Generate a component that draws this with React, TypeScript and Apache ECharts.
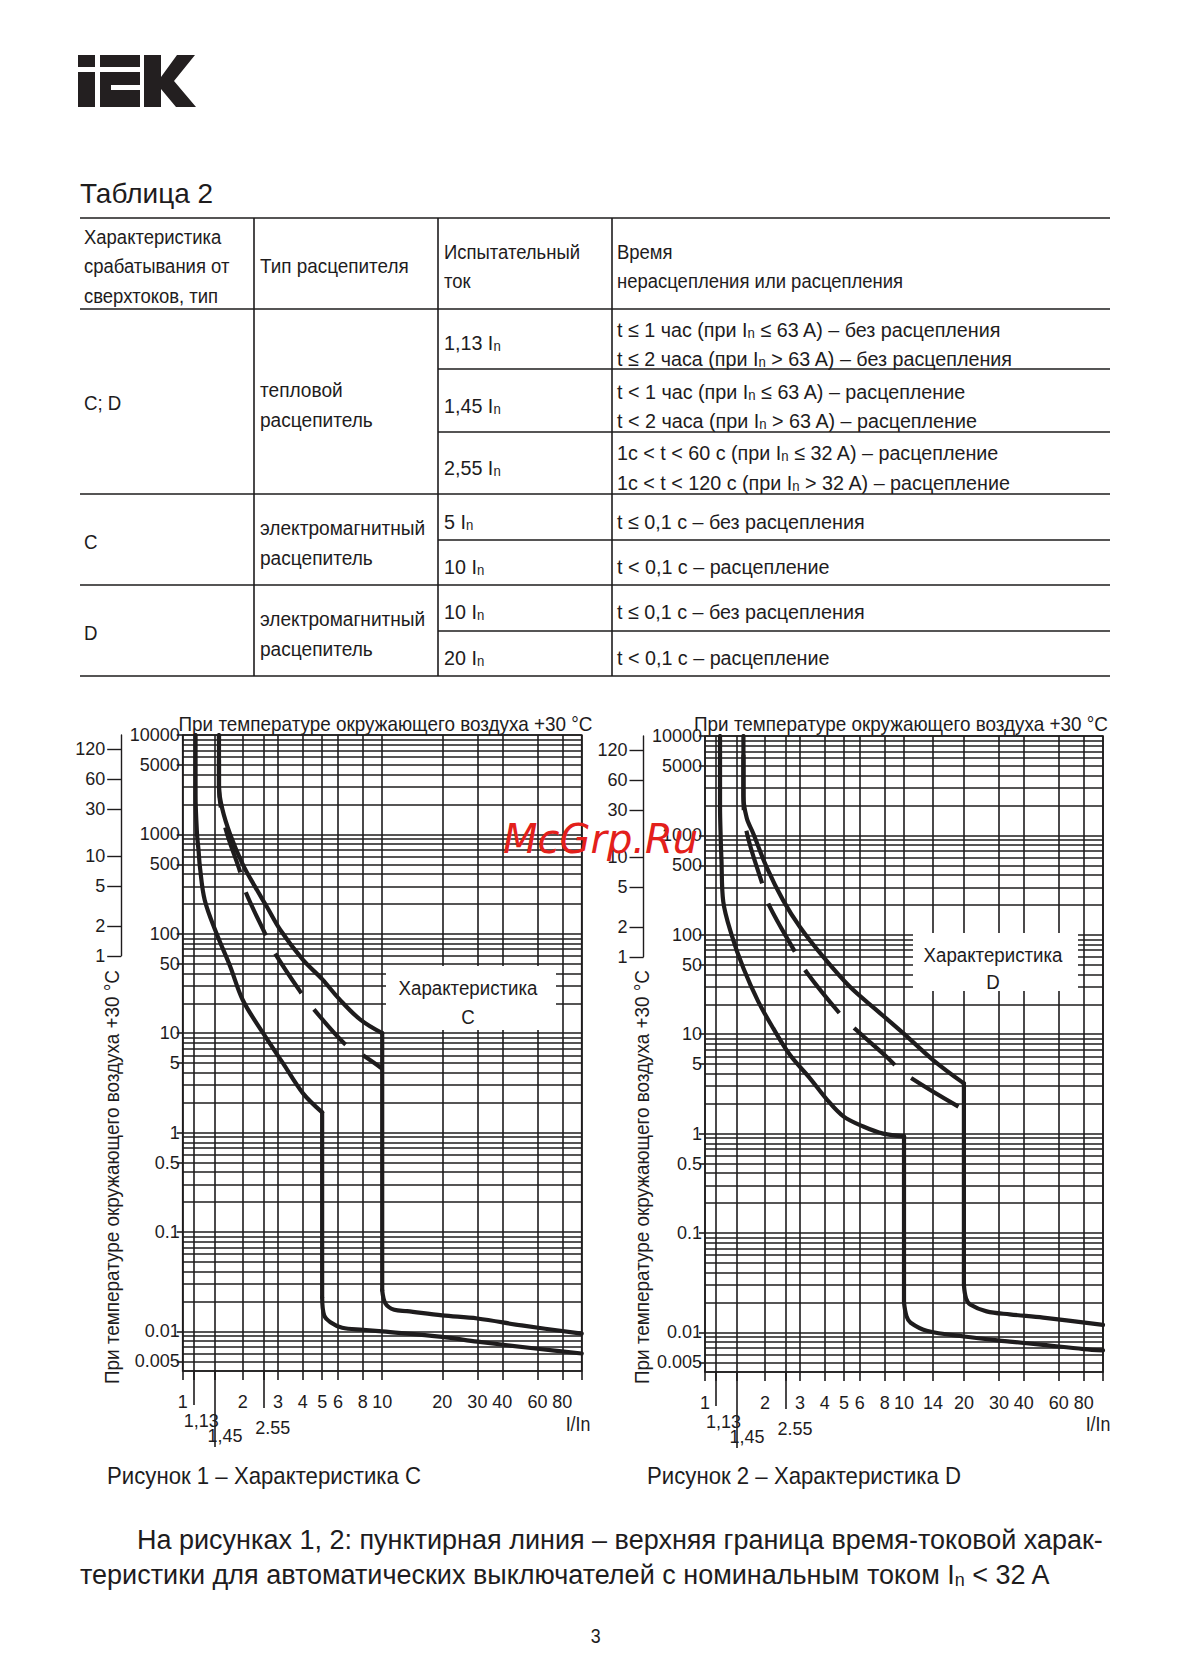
import React, { useEffect, useRef } from "react";
import * as echarts from "echarts";

const PAGE_W = 1189;
const PAGE_H = 1677;
const SANS = '"Liberation Sans", Arial, sans-serif';
const COND = 0.89; // horizontal squeeze that imitates the condensed typeface of the reference
const COND_WIDE = 0.94;
const INK = "#1e1c1d";

// ---------------- data ----------------
const currentGridC = [1, 1.13, 1.45, 2, 2.55, 3, 4, 5, 6, 8, 10, 20, 30, 40, 60, 80, 100];
const currentGridD = [1, 1.13, 1.45, 2, 2.55, 3, 4, 5, 6, 8, 10, 14, 20, 30, 40, 60, 80, 100];
const currentLabelsC = [1, 2, 3, 4, 5, 6, 8, 10, 20, 30, 40, 60, 80];
const currentLabelsD = [1, 2, 3, 4, 5, 6, 8, 10, 14, 20, 30, 40, 60, 80];
const testCurrents = [1.13, 1.45, 2.55];
const testCurrentLabels = ["1,13", "1,45", "2.55"];
const timeLabels = [0.005, 0.01, 0.1, 0.5, 1, 5, 10, 50, 100, 500, 1000, 5000, 10000];
const minuteLabels = [1, 2, 5, 10, 30, 60, 120];
const timeMin = 0.004;
const timeMax = 10000;
const currentMin = 1;
const currentMax = 100;

// Characteristic C
const cLowerCurve = [[1.16, 10000], [1.16, 2500], [1.18, 1000], [1.2, 700], [1.22, 470], [1.29, 218], [1.48, 100], [1.73, 47], [2.0, 21.6], [2.53, 10], [3.18, 5], [4.0, 2.5], [5.0, 1.6]];
const cLowerDrop = [[5.0, 1.6], [5.0, 0.022]];
const cLowerTail = [[5.0, 0.022], [5.12, 0.0145], [5.5, 0.0124], [6.3, 0.0109], [8, 0.0104], [10, 0.01], [20, 0.0088], [30, 0.0079], [60, 0.0067], [100, 0.006]];
const cUpperCurve = [[1.52, 10000], [1.52, 3000], [1.58, 1800], [1.73, 1000], [2.0, 500], [2.3, 300], [2.65, 185], [3.08, 110], [4.0, 55], [5.0, 35], [6.1, 22], [7.8, 13.6], [10, 10]];
const cUpperDrop = [[10, 10], [10, 0.026]];
const cUpperTail = [[10, 0.026], [10.4, 0.019], [11.5, 0.0165], [13.3, 0.016], [20, 0.0145], [30, 0.0135], [50, 0.0115], [100, 0.0095]];
const cDashed = [[1.52, 10000], [1.52, 3000], [1.63, 1200], [1.94, 420], [2.05, 275], [2.59, 100], [2.87, 66], [3.87, 26.5], [4.48, 18], [6.5, 7.8], [8.0, 6.0], [10, 4.4]];

// Characteristic D
const dLowerCurve = [[1.19, 10000], [1.19, 2000], [1.2, 900], [1.21, 560], [1.235, 216], [1.36, 100], [1.56, 46], [1.85, 21.4], [2.2, 11.5], [2.67, 6.2], [3.37, 3.6], [4.1, 2.2], [4.96, 1.49], [6.24, 1.18], [7.86, 1.0], [10, 0.94]];
const dLowerDrop = [[10, 0.94], [10, 0.02]];
const dLowerTail = [[10, 0.02], [10.3, 0.0145], [10.8, 0.0125], [13, 0.0104], [20, 0.0091], [34, 0.0081], [50, 0.0075], [80, 0.0068], [100, 0.0066]];
const dUpperCurve = [[1.56, 10000], [1.56, 2500], [1.62, 1500], [1.75, 1040], [2.04, 480], [2.47, 222], [3.0, 120], [3.93, 60], [5.35, 30], [7.3, 17.4], [9.94, 10.2], [14, 5.5], [20, 3.2]];
const dUpperDrop = [[20, 3.2], [20, 0.03]];
const dUpperTail = [[20, 0.03], [20.5, 0.022], [21.5, 0.0191], [26, 0.0163], [34, 0.0152], [50, 0.0141], [100, 0.0119]];
const dDashed = [[1.56, 10000], [1.56, 2500], [1.62, 1079], [1.95, 315], [2.1, 198], [2.86, 65], [3.24, 42], [4.8, 15.8], [5.71, 11.2], [8.19, 5.9], [10.1, 4.0], [20, 1.74]];

// Table text
const tableHeader = ["Характеристика\nсрабатывания от\nсверхтоков, тип", "Тип расцепителя", "Испытательный\nток", "Время\nнерасцепления или расцепления"];
const tableTypes = ["C; D", "C", "D"];
const tableReleases = ["тепловой\nрасцепитель", "электромагнитный\nрасцепитель", "электромагнитный\nрасцепитель"];
const tableCurrents = ["1,13 Iₙ", "1,45 Iₙ", "2,55 Iₙ", "5 Iₙ", "10 Iₙ", "10 Iₙ", "20 Iₙ"];
const tableTimes = [
  ["t ≤ 1 час (при Iₙ ≤ 63 A) – без расцепления", "t ≤ 2 часа (при Iₙ > 63 A) – без расцепления"],
  ["t < 1 час (при Iₙ ≤ 63 A) – расцепление", "t < 2 часа (при Iₙ > 63 A) – расцепление"],
  ["1c < t < 60 c (при Iₙ ≤ 32 A) – расцепление", "1c < t < 120 c (при Iₙ > 32 A) – расцепление"],
  ["t ≤ 0,1 с – без расцепления"],
  ["t < 0,1 с – расцепление"],
  ["t ≤ 0,1 c – без расцепления"],
  ["t < 0,1 c – расцепление"],
];
const chartTitle = "При температуре окружающего воздуха +30 °С";
const characteristicNames = ["C", "D"];
const captions = ["Рисунок 1 – Характеристика C", "Рисунок 2 – Характеристика D"];
const footnote = ["На рисунках 1, 2: пунктирная линия – верхняя граница время-токовой харак-", "теристики для автоматических выключателей с номинальным током Iₙ < 32 A"];

// ---------------- layout ----------------
const PLOT_C = { left: 182.7, top: 735, width: 399, height: 636 };
const PLOT_D = { left: 705, top: 736, width: 398, height: 636 };
const MINUTE_OFFSET = 61.5;
const TEST_TICKS = [
  { length: 34, margin: 41, pad: 16 },
  { length: 76, margin: 56, pad: 20 },
  { length: 37, margin: 48, pad: 18 },
];
const TABLE_COLS = [80, 254, 438, 612, 1110];
const TABLE_TEXT_X = [84, 260, 444, 617];

const gridLine = { color: INK, width: 1.6 };
const axisText = { fontFamily: SANS, fontSize: 18, color: INK };
const fmtNum = (v: any) => String(Number(Number(v).toPrecision(4)));

function timeGridValues(): number[] {
  const out: number[] = [];
  for (let e = -3; e <= 4; e++) {
    for (let k = 1; k <= 9; k++) {
      const v = Number((k * Math.pow(10, e)).toPrecision(6));
      if (v >= timeMin && v <= timeMax) out.push(v);
    }
  }
  return out;
}

function xAxesFor(gridIndex: number, gridVals: number[], labels: number[]) {
  const main = {
    type: "log", logBase: 10, gridIndex, min: currentMin, max: currentMax, position: "bottom",
    axisLine: { show: false },
    axisTick: { show: true, customValues: gridVals, length: 9, lineStyle: gridLine },
    axisLabel: { customValues: labels, formatter: fmtNum, margin: 22, ...axisText },
    splitLine: { show: true, lineStyle: gridLine },
  };
  const extras = testCurrents.map((v, i) => ({
    type: "log", logBase: 10, gridIndex, min: currentMin, max: currentMax, position: "bottom",
    axisLine: { show: false },
    axisTick: { show: true, customValues: [v], length: TEST_TICKS[i].length, lineStyle: gridLine },
    axisLabel: { customValues: [v], formatter: () => testCurrentLabels[i], margin: TEST_TICKS[i].margin, padding: [0, 0, 0, TEST_TICKS[i].pad], ...axisText },
    splitLine: { show: false },
  }));
  return [main, ...extras];
}

function yAxesFor(gridIndex: number) {
  return [
    {
      type: "log", logBase: 10, gridIndex, min: timeMin, max: timeMax, position: "left",
      axisLine: { show: false },
      axisTick: { show: true, customValues: timeLabels, length: 6, lineStyle: gridLine },
      axisLabel: { customValues: timeLabels, formatter: fmtNum, margin: 3, ...axisText },
      splitLine: { show: false },
    },
    {
      type: "log", logBase: 10, gridIndex, min: timeMin, max: timeMax, position: "left",
      axisLine: { show: false },
      axisTick: { show: false, customValues: timeGridValues() },
      axisLabel: { show: false },
      splitLine: { show: true, lineStyle: gridLine },
    },
  ];
}

function minuteAxis(gridIndex: number) {
  const secs = minuteLabels.map((m) => m * 60);
  return {
    type: "log", logBase: 10, gridIndex, min: 60, max: timeMax, position: "left",
    axisLine: { show: true, lineStyle: { color: INK, width: 1.4 } },
    axisTick: { show: true, customValues: secs, length: 14, lineStyle: { color: INK, width: 1.4 } },
    axisLabel: { customValues: secs, formatter: (v: any) => String(Math.round(Number(v) / 60)), margin: 16, ...axisText },
    splitLine: { show: false },
  };
}

function curve(data: number[][], xi: number, yi: number, smooth: number | boolean, dash?: { pattern: number[]; offset: number }) {
  return {
    type: "line", xAxisIndex: xi, yAxisIndex: yi, data, smooth, symbol: "none", showSymbol: false, silent: true, z: 5,
    lineStyle: dash
      ? { color: INK, width: 4.2, type: dash.pattern, dashOffset: dash.offset, cap: "butt" }
      : { color: INK, width: 4.2, cap: "round", join: "round" },
  };
}

function subRich(s: string, size: number) {
  const parts = s.split("ₙ");
  let out = "";
  parts.forEach((p, i) => {
    if (p.length) out += "{r|" + p + "}";
    if (i < parts.length - 1) out += "{s|n}";
  });
  const sub = Math.round(size * 0.65);
  return {
    text: out,
    rich: {
      r: { fontSize: size, fontFamily: SANS, fill: INK, lineHeight: size + 4, verticalAlign: "bottom" },
      s: { fontSize: sub, fontFamily: SANS, fill: INK, lineHeight: sub, verticalAlign: "bottom" },
    },
  };
}

function txt(x: number, y: number, text: string, size: number, sx = COND, extra: any = {}) {
  return {
    type: "text", x, y, scaleX: sx, z: 60, silent: true,
    style: { text, fontSize: size, fontFamily: SANS, fill: INK, textAlign: "left", textVerticalAlign: "middle", ...extra },
  };
}

function richTxt(x: number, y: number, s: string, size: number, sx = COND) {
  const r = subRich(s, size);
  return {
    type: "text", x, y, scaleX: sx, z: 60, silent: true,
    style: { text: r.text, rich: r.rich, fill: INK, textAlign: "left", textVerticalAlign: "middle" },
  };
}

function hLine(x1: number, x2: number, y: number) {
  return { type: "line", z: 40, silent: true, shape: { x1, y1: y, x2, y2: y }, style: { stroke: INK, lineWidth: 1.6 } };
}
function vLine(x: number, y1: number, y2: number) {
  return { type: "line", z: 40, silent: true, shape: { x1: x, y1, x2: x, y2 }, style: { stroke: INK, lineWidth: 1.6 } };
}
function rect(x: number, y: number, w: number, h: number, fill: string, z = 40) {
  return { type: "rect", z, silent: true, shape: { x, y, width: w, height: h }, style: { fill } };
}

function buildGraphics() {
  const g: any[] = [];
  // logo
  const logo = "#231f20";
  g.push(rect(78, 55, 17, 12, logo));
  g.push(rect(78, 72, 17, 35, logo));
  g.push(rect(100, 55, 40, 12, logo));
  g.push(rect(100, 72, 40, 13, logo));
  g.push(rect(100, 72, 11, 35, logo));
  g.push(rect(100, 90, 40, 17, logo));
  g.push({
    type: "polygon", z: 40, silent: true,
    shape: { points: [[144, 55], [161, 55], [161, 77], [177, 55], [195, 55], [174, 81], [196, 107], [176, 107], [161, 89], [161, 107], [144, 107]] },
    style: { fill: logo },
  });

  // table title
  g.push(txt(80, 193, "Таблица 2", 28, 1));

  // table rules
  const [c0, c1, c2, c3, c4] = TABLE_COLS;
  [218, 309, 494, 585, 676].forEach((y) => g.push(hLine(c0, c4, y)));
  [369, 432, 540, 631].forEach((y) => g.push(hLine(c2, c4, y)));
  [c1, c2, c3].forEach((x) => g.push(vLine(x, 218, 676)));

  const [tx0, tx1, tx2, tx3] = TABLE_TEXT_X;
  const fs = 21;
  const lh = { lineHeight: 29.5 };
  g.push(txt(tx0, 266, tableHeader[0], fs, 0.88, lh));
  g.push(txt(tx1, 266, tableHeader[1], fs, 0.9, lh));
  g.push(txt(tx2, 266, tableHeader[2], fs, 0.88, lh));
  g.push(txt(tx3, 266, tableHeader[3], fs, 0.88, lh));

  const typeY = [403, 542, 633];
  tableTypes.forEach((t, i) => g.push(txt(tx0, typeY[i], t, fs)));
  const relY = [404.5, 542.5, 633.5];
  tableReleases.forEach((t, i) => g.push(txt(tx1, relY[i], t, fs, 0.91, lh)));
  const curY = [341, 404, 466, 520, 565, 610, 656];
  tableCurrents.forEach((t, i) => g.push(richTxt(tx2, curY[i], t, fs, COND_WIDE)));
  const timeY = [[328, 357], [390, 419], [451, 481], [520], [565], [610], [656]];
  tableTimes.forEach((lines, i) => lines.forEach((l, j) => g.push(richTxt(tx3, timeY[i][j], l, fs, COND_WIDE))));

  // chart titles
  g.push(txt(385.5, 724, chartTitle, 21, 0.9, { textAlign: "center" }));
  g.push(txt(901, 724, chartTitle, 21, 0.9, { textAlign: "center" }));
  // rotated axis titles
  [112, 641.5].forEach((x) =>
    g.push({
      type: "text", x, y: 1177, rotation: Math.PI / 2, scaleX: 0.9, z: 60, silent: true,
      style: { text: chartTitle, fontSize: 21, fontFamily: SANS, fill: INK, textAlign: "center", textVerticalAlign: "middle" },
    })
  );
  // I/In
  g.push(txt(578, 1424, "I/In", 20, COND, { textAlign: "center" }));
  g.push(txt(1098, 1424, "I/In", 20, COND, { textAlign: "center" }));

  // characteristic label boxes
  g.push(rect(386, 966, 170, 64, "#ffffff", 100));
  g.push({ ...txt(468, 988, "Характеристика", 21, COND, { textAlign: "center" }), z: 101 });
  g.push({ ...txt(468, 1017, characteristicNames[0], 21, COND, { textAlign: "center" }), z: 101 });
  g.push(rect(913, 933, 165, 58, "#ffffff", 100));
  g.push({ ...txt(993, 955, "Характеристика", 21, COND, { textAlign: "center" }), z: 101 });
  g.push({ ...txt(993, 982, characteristicNames[1], 21, COND, { textAlign: "center" }), z: 101 });

  // captions
  g.push(txt(107, 1476, captions[0], 24, 0.925));
  g.push(txt(647, 1476, captions[1], 24, 0.925));

  // footnote
  g.push(txt(137, 1540, footnote[0], 27, 1));
  g.push(richTxt(80, 1573, footnote[1], 27, 1));

  // page number
  g.push(txt(595.6, 1636, "3", 20, COND, { textAlign: "center" }));

  // watermark
  g.push({
    type: "text", x: 503, y: 839, z: 120, silent: true,
    style: { text: "McGrp.Ru", fontSize: 40, fontFamily: '"DejaVu Sans", sans-serif', fontStyle: "italic", fill: "#e3201b", textAlign: "left", textVerticalAlign: "middle" },
  });
  return g;
}

function buildOption() {
  const minuteH = (p: { height: number }) => (p.height * Math.log10(timeMax / 60)) / Math.log10(timeMax / timeMin);
  const grid = [
    { ...PLOT_C, show: true, borderColor: INK, borderWidth: 1.6, backgroundColor: "transparent" },
    { ...PLOT_D, show: true, borderColor: INK, borderWidth: 1.6, backgroundColor: "transparent" },
    { left: PLOT_C.left - MINUTE_OFFSET, top: PLOT_C.top, width: 10, height: minuteH(PLOT_C) },
    { left: PLOT_D.left - MINUTE_OFFSET, top: PLOT_D.top, width: 10, height: minuteH(PLOT_D) },
  ];
  const xAxis = [
    ...xAxesFor(0, currentGridC, currentLabelsC), // 0..3
    ...xAxesFor(1, currentGridD, currentLabelsD), // 4..7
    { type: "value", gridIndex: 2, show: false, min: 0, max: 1 }, // 8
    { type: "value", gridIndex: 3, show: false, min: 0, max: 1 }, // 9
  ];
  const yAxis = [
    ...yAxesFor(0), // 0,1
    ...yAxesFor(1), // 2,3
    minuteAxis(2), // 4
    minuteAxis(3), // 5
  ];
  const dashC = { pattern: [47.5, 20.5], offset: 43 };
  const dashD = { pattern: [55, 21], offset: 57 };
  const series = [
    curve(cLowerCurve, 0, 0, 0.35),
    curve(cLowerDrop, 0, 0, false),
    curve(cLowerTail, 0, 0, 0.35),
    curve(cUpperCurve, 0, 0, 0.35),
    curve(cUpperDrop, 0, 0, false),
    curve(cUpperTail, 0, 0, 0.35),
    curve(cDashed, 0, 0, 0.35, dashC),
    curve(dLowerCurve, 4, 2, 0.35),
    curve(dLowerDrop, 4, 2, false),
    curve(dLowerTail, 4, 2, 0.35),
    curve(dUpperCurve, 4, 2, 0.35),
    curve(dUpperDrop, 4, 2, false),
    curve(dUpperTail, 4, 2, 0.35),
    curve(dDashed, 4, 2, 0.35, dashD),
  ];
  return {
    animation: false,
    backgroundColor: "#ffffff",
    textStyle: { fontFamily: SANS },
    grid,
    xAxis,
    yAxis,
    series,
    graphic: { elements: buildGraphics() },
  };
}

export default function App() {
  const ref = useRef<HTMLDivElement>(null);
  useEffect(() => {
    document.body.style.margin = "0";
    const chart = echarts.init(ref.current as HTMLDivElement, null, { renderer: "svg", width: PAGE_W, height: PAGE_H });
    chart.setOption(buildOption() as any);
    return () => chart.dispose();
  }, []);
  return <div ref={ref} style={{ width: PAGE_W, height: PAGE_H, background: "#ffffff" }} />;
}
